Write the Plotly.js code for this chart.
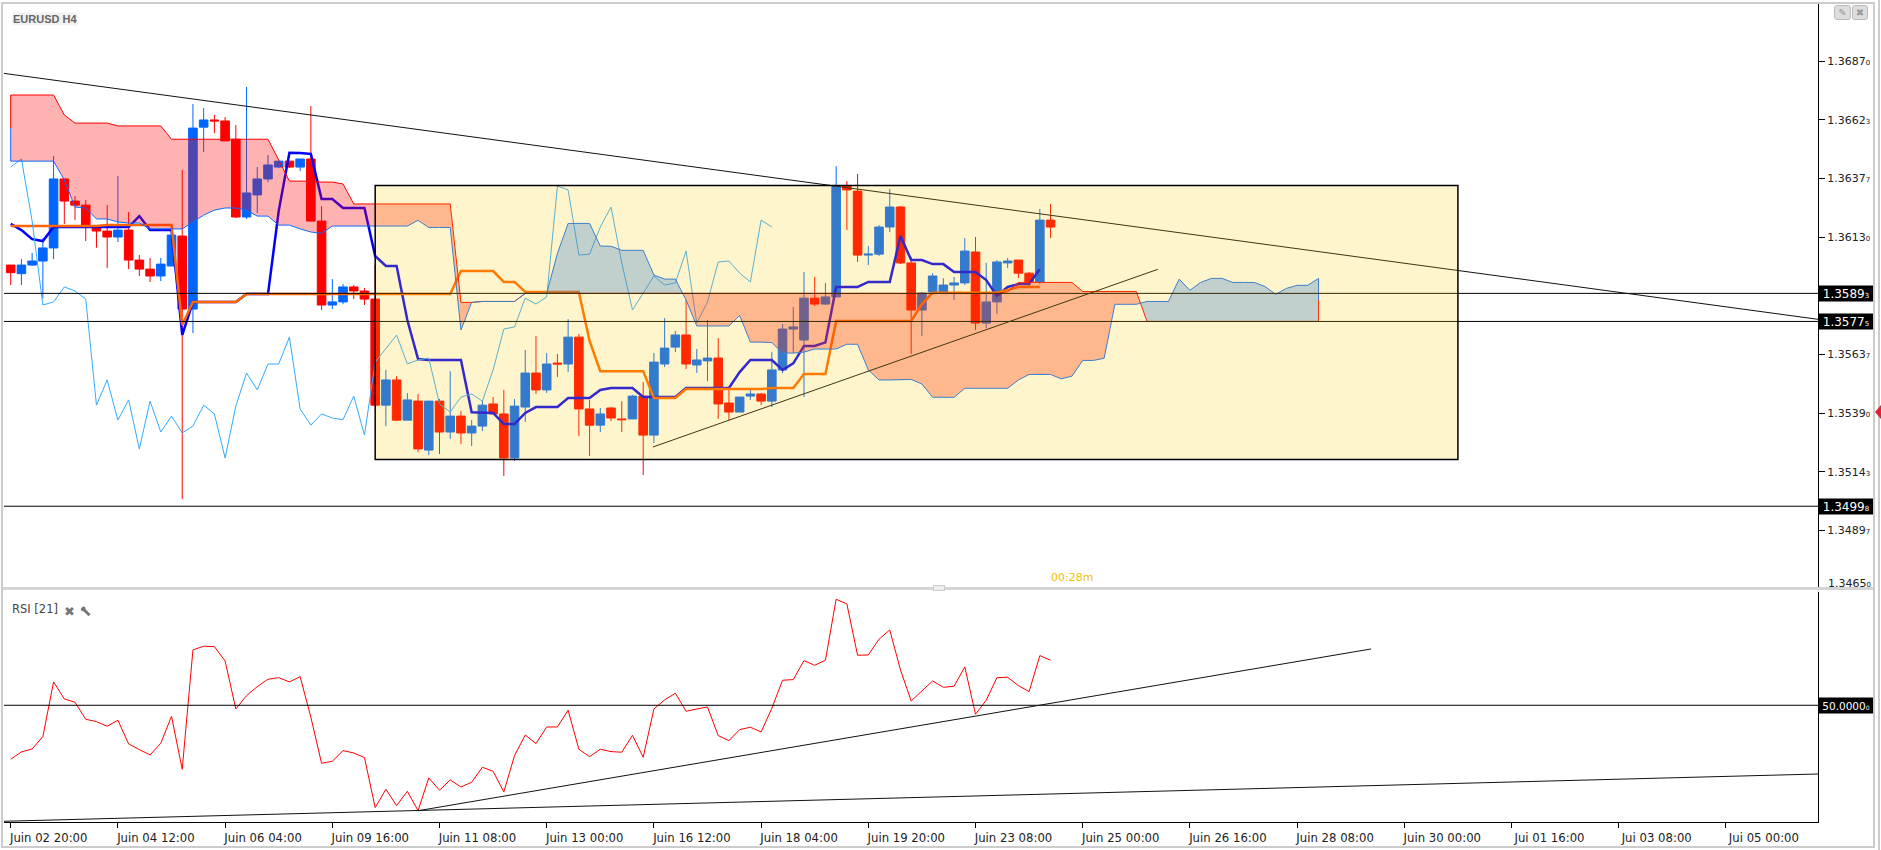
<!DOCTYPE html>
<html><head><meta charset="utf-8">
<script src="https://cdn.plot.ly/plotly-3.0.1.min.js"></script>
<style>
html,body{margin:0;padding:0;background:#fff;overflow:hidden}
#chart{position:absolute;left:0;top:0;width:1881px;height:850px}
.o{position:absolute;box-sizing:border-box}
</style></head><body>
<div id="chart"></div>
<div class="o" style="left:1px;top:2px;width:1874px;height:846px;border:2px solid #ccc;pointer-events:none"></div>
<div class="o" style="left:1878px;top:0;width:2px;height:850px;background:#ccc"></div>
<div class="o" style="left:3px;top:587px;width:1870px;height:3px;background:#d4d4d4"></div>
<div class="o" style="left:933px;top:585px;width:12px;height:6px;background:#eee;border:1px solid #ccc"></div>
<div class="o" style="left:1834px;top:5px;width:17px;height:15px;background:#ddd;border:1px solid #bbb;border-radius:3px;font:10px 'DejaVu Sans';color:#999;text-align:center;line-height:13px">✎</div>
<div class="o" style="left:1852px;top:5px;width:16px;height:15px;background:#ddd;border:1px solid #bbb;border-radius:3px;font:10px 'DejaVu Sans';color:#999;text-align:center;line-height:13px">✖</div>
<div class="o" style="left:1875px;top:405px;width:0;height:0;border-top:7px solid transparent;border-bottom:7px solid transparent;border-right:6px solid #dd2233"></div>
<svg class="o" style="left:80px;top:606px" width="11" height="11" viewBox="0 0 11 11"><path d="M1 2.5 L3 0.5 C4.5 0 6 1.5 5.5 3.2 L10.5 8.2 L8.5 10.2 L3.5 5.2 C1.8 5.7 0.3 4.2 1 2.5 Z" fill="#777"/></svg>
<script>
// EURUSD H4 candles, bar by bar (index = position on the time axis)
const open = [1.36012,1.35976,1.36012,1.36029,1.36084,1.36374,1.36281,1.36264,1.36168,1.36155,1.36130,1.36159,1.36033,1.35995,1.35966,1.36008,1.36134,1.35827,1.36592,1.36622,1.36618,1.36541,1.36214,1.36307,1.36374,1.36424,1.36449,1.36424,1.36458,1.36197,1.35844,1.35857,1.35920,1.35903,1.35869,1.35423,1.35529,1.35360,1.35440,1.35234,1.35440,1.35310,1.35377,1.35306,1.35335,1.35428,1.35386,1.35201,1.35415,1.35558,1.35487,1.35600,1.35596,1.35709,1.35407,1.35339,1.35411,1.35365,1.35365,1.35461,1.35297,1.35596,1.35667,1.35718,1.35592,1.35609,1.35621,1.35432,1.35394,1.35461,1.35470,1.35440,1.35571,1.35743,1.35697,1.35873,1.35848,1.35878,1.36344,1.36323,1.36054,1.36058,1.36172,1.36256,1.36021,1.35823,1.35899,1.35899,1.35928,1.35937,1.36067,1.35768,1.35857,1.36021,1.36033,1.35978,1.35941,1.36201];
const high = [1.36012,1.36037,1.36063,1.36124,1.36470,1.36374,1.36302,1.36285,1.36180,1.36264,1.36386,1.36235,1.36054,1.36042,1.36042,1.36138,1.36412,1.36689,1.36672,1.36643,1.36634,1.36601,1.36761,1.36424,1.36475,1.36449,1.36449,1.36458,1.36681,1.36260,1.35953,1.35932,1.35928,1.35915,1.36012,1.35571,1.35545,1.35474,1.35470,1.35440,1.35449,1.35566,1.35398,1.35360,1.35445,1.35457,1.35487,1.35449,1.35655,1.35714,1.35642,1.35638,1.35785,1.35722,1.35445,1.35411,1.35415,1.35440,1.35466,1.35520,1.35642,1.35789,1.35735,1.35865,1.35659,1.35781,1.35705,1.35487,1.35457,1.35487,1.35473,1.35646,1.35764,1.35836,1.35983,1.35962,1.35937,1.36428,1.36365,1.36395,1.36092,1.36180,1.36332,1.36260,1.36047,1.35899,1.35978,1.35957,1.35962,1.36126,1.36130,1.36021,1.36033,1.36042,1.36033,1.35983,1.36248,1.36269];
const low = [1.35928,1.35928,1.36008,1.35872,1.36037,1.36185,1.36201,1.36113,1.36085,1.35999,1.36109,1.35995,1.35966,1.35941,1.35945,1.36008,1.35028,1.35726,1.36487,1.36567,1.36534,1.36210,1.36206,1.36231,1.36361,1.36420,1.36420,1.36407,1.36197,1.35823,1.35827,1.35848,1.35869,1.35844,1.35416,1.35335,1.35356,1.35360,1.35226,1.35213,1.35217,1.35281,1.35260,1.35251,1.35314,1.35386,1.35125,1.35188,1.35352,1.35470,1.35474,1.35541,1.35562,1.35293,1.35209,1.35310,1.35356,1.35310,1.35365,1.35129,1.35264,1.35583,1.35646,1.35575,1.35558,1.35524,1.35365,1.35360,1.35394,1.35445,1.35423,1.35415,1.35558,1.35642,1.35457,1.35840,1.35844,1.35878,1.36159,1.36025,1.36012,1.36050,1.36151,1.36016,1.35638,1.35714,1.35899,1.35899,1.35865,1.35928,1.35739,1.35747,1.35806,1.35999,1.35957,1.35924,1.35932,1.36126];
const close = [1.35980,1.36012,1.36029,1.36084,1.36374,1.36281,1.36264,1.36180,1.36155,1.36130,1.36159,1.36033,1.35995,1.35966,1.36016,1.36138,1.35827,1.36588,1.36622,1.36618,1.36534,1.36214,1.36315,1.36374,1.36433,1.36449,1.36424,1.36458,1.36197,1.35844,1.35857,1.35920,1.35903,1.35869,1.35423,1.35529,1.35360,1.35445,1.35239,1.35440,1.35310,1.35377,1.35306,1.35335,1.35423,1.35386,1.35201,1.35419,1.35558,1.35487,1.35596,1.35596,1.35709,1.35407,1.35339,1.35386,1.35369,1.35362,1.35461,1.35297,1.35604,1.35663,1.35718,1.35596,1.35613,1.35621,1.35428,1.35394,1.35457,1.35470,1.35440,1.35571,1.35743,1.35752,1.35873,1.35848,1.35878,1.36344,1.36328,1.36054,1.36058,1.36172,1.36256,1.36021,1.35823,1.35894,1.35966,1.35928,1.35937,1.36071,1.35768,1.35857,1.36025,1.36029,1.35978,1.35941,1.36201,1.36172];
// Ichimoku lines
const tenkan = [1.36185,1.36159,1.36121,1.36113,1.36172,1.36172,1.36172,1.36172,1.36172,1.36172,1.36172,1.36172,1.36218,1.36159,1.36159,1.36159,1.35718,1.35857,1.35857,1.35857,1.35857,1.35857,1.35890,1.35890,1.35890,1.36239,1.36484,1.36483,1.36479,1.36290,1.36290,1.36252,1.36252,1.36252,1.36050,1.36008,1.36008,1.35781,1.35617,1.35613,1.35613,1.35613,1.35613,1.35393,1.35390,1.35390,1.35344,1.35344,1.35390,1.35415,1.35415,1.35415,1.35453,1.35453,1.35453,1.35487,1.35495,1.35495,1.35495,1.35457,1.35457,1.35457,1.35457,1.35495,1.35495,1.35495,1.35495,1.35495,1.35562,1.35613,1.35613,1.35613,1.35571,1.35599,1.35672,1.35672,1.35687,1.35920,1.35920,1.35920,1.35941,1.35941,1.35941,1.36134,1.36033,1.36033,1.36016,1.36016,1.35983,1.35983,1.35983,1.35949,1.35882,1.35920,1.35932,1.35932,1.35995];
const kijun = [1.36176,1.36176,1.36176,1.36176,1.36176,1.36176,1.36176,1.36176,1.36176,1.36180,1.36180,1.36180,1.36180,1.36180,1.36180,1.36180,1.35760,1.35857,1.35857,1.35857,1.35857,1.35857,1.35890,1.35890,1.35890,1.35890,1.35890,1.35890,1.35890,1.35890,1.35890,1.35890,1.35890,1.35890,1.35890,1.35890,1.35890,1.35890,1.35890,1.35890,1.35890,1.35890,1.35987,1.35987,1.35987,1.35987,1.35941,1.35941,1.35899,1.35899,1.35899,1.35899,1.35899,1.35899,1.35693,1.35566,1.35566,1.35566,1.35566,1.35566,1.35453,1.35453,1.35453,1.35491,1.35491,1.35491,1.35491,1.35491,1.35491,1.35491,1.35491,1.35495,1.35495,1.35495,1.35554,1.35554,1.35554,1.35777,1.35777,1.35777,1.35777,1.35777,1.35777,1.35777,1.35777,1.35848,1.35896,1.35896,1.35896,1.35896,1.35896,1.35896,1.35896,1.35907,1.35920,1.35920,1.35920];
const chikou = [1.36424,1.36458,1.36197,1.35844,1.35857,1.35920,1.35903,1.35869,1.35423,1.35529,1.35360,1.35445,1.35239,1.35440,1.35310,1.35377,1.35306,1.35335,1.35423,1.35386,1.35201,1.35419,1.35558,1.35487,1.35596,1.35596,1.35709,1.35407,1.35339,1.35386,1.35369,1.35362,1.35461,1.35297,1.35604,1.35663,1.35718,1.35596,1.35613,1.35621,1.35428,1.35394,1.35457,1.35470,1.35440,1.35571,1.35743,1.35752,1.35873,1.35848,1.35878,1.36344,1.36328,1.36054,1.36058,1.36172,1.36256,1.36021,1.35823,1.35894,1.35966,1.35928,1.35937,1.36071,1.35768,1.35857,1.36025,1.36029,1.35978,1.35941,1.36201,1.36172];
const spanRed = [1.36727,1.36727,1.36727,1.36727,1.36727,1.36643,1.36609,1.36609,1.36609,1.36609,1.36597,1.36597,1.36597,1.36597,1.36597,1.36541,1.36541,1.36541,1.36541,1.36541,1.36541,1.36541,1.36541,1.36541,1.36541,1.36454,1.36365,1.36365,1.36365,1.36361,1.36361,1.36353,1.36269,1.36269,1.36269,1.36269,1.36269,1.36269,1.36269,1.36269,1.36269,1.36269,1.35855,1.35855,1.35859,1.35859,1.35859,1.35859,1.35893,1.35893,1.35893,1.35893,1.35893,1.35893,1.35893,1.35893,1.35893,1.35893,1.35893,1.35893,1.35893,1.35893,1.35893,1.35893,1.35893,1.35893,1.35893,1.35893,1.35893,1.35893,1.35893,1.35893,1.35893,1.35893,1.35893,1.35893,1.35893,1.35893,1.35893,1.35893,1.35893,1.35893,1.35893,1.35893,1.35893,1.35893,1.35893,1.35893,1.35893,1.35893,1.35893,1.35893,1.35893,1.35900,1.35939,1.35939,1.35939,1.35939,1.35939,1.35939,1.35901,1.35901,1.35901,1.35901,1.35901,1.35901,1.35775,1.35775,1.35775,1.35775,1.35775,1.35775,1.35775,1.35775,1.35775,1.35775,1.35775,1.35775,1.35775,1.35775,1.35775,1.35775,1.35775];
const spanBlue = [1.36449,1.36449,1.36449,1.36449,1.36449,1.36370,1.36256,1.36252,1.36206,1.36206,1.36193,1.36189,1.36189,1.36164,1.36164,1.36164,1.36164,1.36193,1.36222,1.36243,1.36252,1.36252,1.36243,1.36218,1.36218,1.36180,1.36180,1.36164,1.36151,1.36145,1.36176,1.36176,1.36176,1.36176,1.36176,1.36176,1.36176,1.36176,1.36200,1.36170,1.36170,1.36170,1.35739,1.35855,1.35859,1.35859,1.35859,1.35859,1.35893,1.35893,1.35893,1.36061,1.36187,1.36187,1.36187,1.36092,1.36091,1.36074,1.36074,1.36074,1.35970,1.35953,1.35953,1.35865,1.35756,1.35756,1.35756,1.35756,1.35800,1.35688,1.35688,1.35686,1.35642,1.35642,1.35646,1.35659,1.35659,1.35659,1.35679,1.35679,1.35571,1.35529,1.35529,1.35529,1.35531,1.35512,1.35456,1.35456,1.35456,1.35494,1.35494,1.35494,1.35494,1.35494,1.35529,1.35552,1.35552,1.35552,1.35534,1.35545,1.35611,1.35611,1.35620,1.35847,1.35847,1.35847,1.35859,1.35859,1.35859,1.35953,1.35906,1.35939,1.35956,1.35956,1.35939,1.35939,1.35939,1.35922,1.35889,1.35914,1.35927,1.35927,1.35956];
const rsi = [43.25,44.17,44.54,46.08,52.92,50.79,50.38,48.25,47.96,47.38,48.13,45.17,44.46,43.79,45.25,48.63,42.0,56.92,57.38,57.33,55.54,49.54,51.21,52.33,53.25,53.46,52.92,53.58,48.5,42.75,43.0,44.33,44.04,43.46,37.21,39.5,37.46,39.25,36.83,40.92,39.38,40.67,39.79,40.38,42.25,41.75,39.17,43.71,46.29,45.21,47.29,47.29,49.38,44.5,43.58,44.5,44.21,44.13,46.25,43.5,49.54,50.67,51.5,49.25,49.54,49.79,46.21,45.58,46.96,47.25,46.67,49.63,53.13,53.21,55.58,55.0,55.63,63.25,62.67,56.25,56.29,58.25,59.42,54.42,50.54,51.79,53.04,52.25,52.38,54.79,48.88,50.63,53.46,53.5,52.46,51.71,56.21,55.63];
// Axis labels
const xTickLabels = ["Juin 02 20:00","Juin 04 12:00","Juin 06 04:00","Juin 09 16:00","Juin 11 08:00","Juin 13 00:00","Juin 16 12:00","Juin 18 04:00","Juin 19 20:00","Juin 23 08:00","Juin 25 00:00","Juin 26 16:00","Juin 28 08:00","Juin 30 00:00","Jui 01 16:00","Jui 03 08:00","Jui 05 00:00"];
const priceTicks = [1.3687,1.36623,1.36377,1.3613,1.35637,1.3539,1.35143,1.34897];
const priceLevels = [1.35893,1.35775,1.34998];
const bottomTick = 1.3465;
const rsiLevel = 50;

const idx = a => a.map((_, i) => i);
const fontName = "'DejaVu Sans', Verdana, sans-serif";
const priceLabel = v => { const s = v.toFixed(5); return s.slice(0,6) + '<span style="font-size:7px">' + s.slice(6) + '</span>'; };

// Cloud polygons: split wherever the two spans cross
function cloudPolys(a, b) {
  const polys = []; let cur = null;
  const flush = () => { if (cur && cur.x.length > 1) polys.push(cur); cur = null; };
  const add = (x, ya, yb) => { cur.x.push(x); cur.a.push(ya); cur.b.push(yb); };
  for (let i = 0; i < a.length; i++) {
    const d = a[i] - b[i], s = Math.abs(d) < 1e-9 ? 0 : Math.sign(d);
    if (i > 0) {
      const pd = a[i-1] - b[i-1], ps = Math.abs(pd) < 1e-9 ? 0 : Math.sign(pd);
      if (s !== ps && s !== 0 && ps !== 0) {
        const t = pd / (pd - d), xc = i - 1 + t, yc = a[i-1] + t * (a[i] - a[i-1]);
        add(xc, yc, yc); flush();
        cur = {x:[], a:[], b:[], s}; add(xc, yc, yc);
      } else if (s === 0 && ps !== 0) { add(i, a[i], b[i]); flush(); }
    }
    if (s !== 0) {
      if (!cur) { cur = {x:[], a:[], b:[], s}; if (i > 0) add(i-1, a[i-1], b[i-1]); }
      add(i, a[i], b[i]);
    }
  }
  flush();
  return polys;
}
const fills = cloudPolys(spanRed, spanBlue).map(p => ({
  type:'scatter', mode:'none', x:[...p.x, ...p.x.slice().reverse()], y:[...p.a, ...p.b.slice().reverse()],
  fill:'toself', fillcolor: p.s > 0 ? 'rgba(255,0,0,0.3)' : 'rgba(0,102,255,0.3)', hoverinfo:'skip', showlegend:false
}));
const lastI = spanRed.length - 1;
const line = (x, y, color, width, yaxis) => ({type:'scatter', mode:'lines', x, y, line:{color, width}, hoverinfo:'skip', showlegend:false, yaxis:yaxis||'y'});
const leftMid = 1.36587, rightMid = 1.35865;

const traces = [
  {type:'candlestick', x:idx(open), open, high, low, close, whiskerwidth:0,
   increasing:{line:{color:'#0066ff',width:1},fillcolor:'#0066ff'},
   decreasing:{line:{color:'#ff0000',width:1},fillcolor:'#ff0000'},
   hoverinfo:'skip', showlegend:false},
  line(idx(tenkan), tenkan, '#0000ff', 2.5),
  line(idx(kijun), kijun, '#ff6600', 2.5),
  line(idx(chikou), chikou, '#33aaff', 1),
  ...fills,
  line(idx(spanRed), spanRed, '#ff0000', 1),
  line(idx(spanBlue), spanBlue, '#0d6cff', 1),
  line([0,0],[spanRed[0],leftMid],'#ff0000',1),
  line([0,0],[leftMid,spanBlue[0]],'#0d6cff',1),
  line([lastI,lastI],[spanBlue[lastI],rightMid],'#0d6cff',1),
  line([lastI,lastI],[rightMid,spanRed[lastI]],'#ff0000',1),
  line(idx(rsi), rsi, '#ff0000', 1, 'y2')
];

const X0 = -0.625, X1 = 168.59;
const hl = (y, yref) => ({type:'line', xref:'x', yref, x0:X0, x1:X1, y0:y, y1:y, line:{color:'#000',width:1}});
const seg = (x0,y0,x1,y1,yref) => ({type:'line', xref:'x', yref, x0, y0, x1, y1, line:{color:'#111',width:1}});
const shapes = [
  ...priceLevels.map(v => hl(v,'y')),
  hl(rsiLevel,'y2'),
  seg(X0,1.36818,X1,1.35784,'y'),
  seg(59.9,1.35247,107,1.35994,'y'),
  seg(X0,35.5,X1,41.41,'y2'),
  seg(38,36.82,126.9,57.04,'y2'),
  {type:'rect', xref:'x', yref:'y', x0:34, x1:135, y0:1.35195, y1:1.36347,
   fillcolor:'rgba(255,204,0,0.2)', line:{color:'#000',width:1.5}}
];
const tag = (y, yref, text, size) => ({xref:'paper', yref, x:1, y, xanchor:'left', yanchor:'middle', text, showarrow:false,
  bgcolor:'#000', font:{family:fontName,size:size||12,color:'#fff'}, borderpad:1, width:52, height:13, align:'center'});
const annotations = [
  ...priceLevels.map(v => tag(v,'y',priceLabel(v))),
  tag(rsiLevel,'y2','50.0000<span style="font-size:6px">0</span>',10.5),
  {xref:'paper', yref:'y', x:1, y:bottomTick, xanchor:'left', xshift:8, yshift:6, yanchor:'middle', showarrow:false,
   text:priceLabel(bottomTick), font:{family:fontName,size:11,color:'#222'}},
  {xref:'paper', yref:'paper', x:8/1814, y:(822-19)/819, xanchor:'left', yanchor:'middle', showarrow:false,
   text:'<b>EURUSD H4</b>', bgcolor:'#f2f2f2', borderpad:0, font:{family:"'Liberation Sans', Arial, sans-serif",size:11,color:'#666'}},
  {xref:'paper', yref:'paper', x:6/1814, y:(822-609)/819, xanchor:'left', yanchor:'middle', showarrow:false,
   text:'RSI [21]', font:{family:fontName,size:11.5,color:'#444'}},
  {xref:'paper', yref:'paper', x:58/1814, y:(822-611)/819, xanchor:'left', yanchor:'middle', showarrow:false,
   text:'✖', font:{family:fontName,size:13,color:'#777'}},
  {xref:'paper', yref:'paper', x:1068/1814, y:(822-577)/819, xanchor:'center', yanchor:'middle', showarrow:false,
   text:'00:28m', font:{family:fontName,size:11,color:'#f5c000'}}
];

const layout = {
  width:1881, height:850, margin:{l:4,r:63,t:3,b:28,pad:0},
  paper_bgcolor:'rgba(0,0,0,0)', plot_bgcolor:'#fff', showlegend:false, boxgap:0.2, boxgroupgap:0, boxmode:'overlay',
  xaxis:{range:[X0,X1], anchor:'y2', type:'linear', rangeslider:{visible:false}, showgrid:false, zeroline:false,
    tickmode:'array', tickvals:xTickLabels.map((_, i) => i*10), ticktext:xTickLabels, ticks:'outside', ticklen:5, tickwidth:1, tickcolor:'#000',
    tickangle:0, ticklabelshift:38, tickfont:{family:fontName,size:11.7,color:'#222'}, showline:true, linecolor:'#000', linewidth:1},
  yaxis:{domain:[233/819,1], range:[1.3465,1.371139], side:'right', anchor:'x', showgrid:false, zeroline:false,
    tickmode:'array', tickvals:priceTicks, ticktext:priceTicks.map(priceLabel), ticks:'outside', ticklen:6, tickwidth:1, tickcolor:'#000',
    tickfont:{family:fontName,size:11,color:'#222'}, showline:true, linecolor:'#000', linewidth:1},
  yaxis2:{domain:[0,230/819], range:[35.41,64.16], side:'right', anchor:'x', showgrid:false, zeroline:false,
    tickmode:'array', tickvals:[], showline:true, linecolor:'#000', linewidth:1},
  shapes, annotations
};
Plotly.newPlot('chart', traces, layout, {staticPlot:true, displayModeBar:false});
</script>
</body></html>
